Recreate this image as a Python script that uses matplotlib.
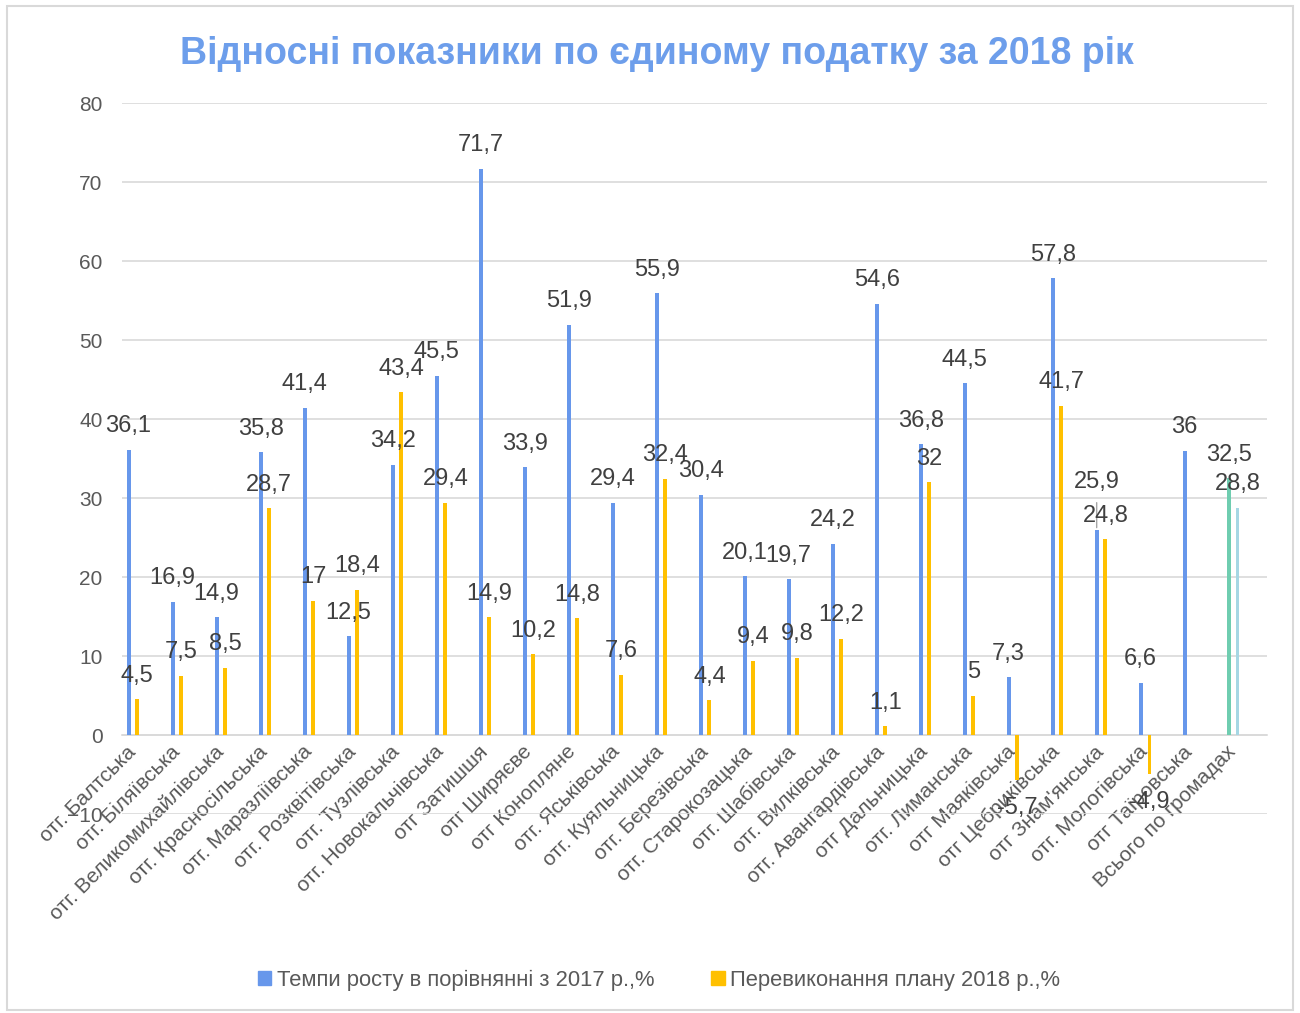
import numpy as np
import matplotlib.pyplot as plt
from matplotlib.patches import Rectangle

# categories and series values
communities = [
    "отг. Балтська", "отг. Біляївська", "отг. Великомихайлівська",
    "отг. Красносільська", "отг. Маразліївська", "отг. Розквітівська",
    "отг. Тузлівська", "отг. Новокальчівська", "отг Затишшя",
    "отг Ширяєве", "отг Конопляне", "отг. Яськівська",
    "отг. Куяльницька", "отг. Березівська", "отг. Старокозацька",
    "отг. Шабівська", "отг. Вилківська", "отг. Авангардівська",
    "отг Дальницька", "отг. Лиманська", "отг Маяківська",
    "отг Цебриківська", "отг Знам'янська", "отг. Мологівська",
    "отг Таїровська", "Всього по громадах",
]
growth = [36.1, 16.9, 14.9, 35.8, 41.4, 12.5, 34.2, 45.5, 71.7, 33.9,
          51.9, 29.4, 55.9, 30.4, 20.1, 19.7, 24.2, 54.6, 36.8, 44.5,
          7.3, 57.8, 25.9, 6.6, 36.0, 32.5]
overplan = [4.5, 7.5, 8.5, 28.7, 17.0, 18.4, 43.4, 29.4, 14.9, 10.2,
            14.8, 7.6, 32.4, 4.4, 9.4, 9.8, 12.2, 1.1, 32.0, 5.0,
            -5.7, 41.7, 24.8, -4.9, np.nan, 28.8]
series_names = ["Темпи росту в порівнянні з 2017 р.,%",
                "Перевиконання плану 2018 р.,%"]
title = "Відносні показники по єдиному податку за 2018 рік"

BLUE = "#6797eb"
ORANGE = "#ffc000"
TEAL = "#6fcdb0"
LIGHTBLUE = "#a6d7e4"
GRID = "#d9d9d9"
TXT = "#595959"
LBL = "#404040"

plt.rcParams['font.family'] = ['Liberation Sans', 'DejaVu Sans']


def fmt(v):
    return f"{v:g}".replace('.', ',')


fig = plt.figure(figsize=(13, 10.13), dpi=100)
ax = fig.add_axes([0.0938, 0.1964, 0.8808, 0.7019])

x = np.arange(len(communities))
w = 0.09
off = 0.1
blue_colors = [BLUE] * (len(x) - 1) + [TEAL]
orange_colors = [ORANGE] * (len(x) - 1) + [LIGHTBLUE]
ax.bar(x - off, growth, width=w, color=blue_colors, zorder=3)
ax.bar(x + off, overplan, width=w, color=orange_colors, zorder=3)

# data labels
for i, v in enumerate(growth):
    dy = 17
    if i == 22:  # label moved up with leader line in the original
        dy = 35
        ax.annotate("", xy=(x[i] - off, v), xytext=(0, 22),
                    textcoords='offset points',
                    arrowprops=dict(arrowstyle='-', color='#a6a6a6', lw=1))
    ax.annotate(fmt(v), xy=(x[i] - off, v), xytext=(0, dy),
                textcoords='offset points', ha='center', va='center',
                fontsize=17, color=LBL, zorder=5)
for i, v in enumerate(overplan):
    if np.isnan(v):
        continue
    dy = 17 if v >= 0 else -20
    ax.annotate(fmt(v), xy=(x[i] + off, v), xytext=(0, dy),
                textcoords='offset points', ha='center', va='center',
                fontsize=17, color=LBL, zorder=5)

ax.set_ylim(-10, 80)
ax.set_yticks(np.arange(-10, 81, 10))
ax.set_xlim(-0.25, 25.77)
ax.grid(axis='y', color=GRID, lw=1.2, zorder=0)
for s in ['top', 'right', 'left']:
    ax.spines[s].set_visible(False)
ax.spines['bottom'].set_position(('data', 0))
ax.spines['bottom'].set_color(GRID)
ax.spines['bottom'].set_linewidth(1.2)
ax.tick_params(axis='y', length=0, pad=14, labelsize=15, labelcolor=TXT)
ax.tick_params(axis='x', length=0, pad=10, labelsize=15, labelcolor=TXT)
ax.set_xticks(x)
ax.set_xticklabels(communities, rotation=45, ha='right', va='center',
                   rotation_mode='anchor')

fig.text(0.505, 0.947, title, ha='center', va='center', fontsize=27,
         fontweight='bold', color="#6d9eeb")

# legend
handles = [Rectangle((0, 0), 1, 1, color=BLUE), Rectangle((0, 0), 1, 1, color=ORANGE)]
fig.legend(handles, series_names, loc='center', bbox_to_anchor=(0.507, 0.032),
           ncol=2, frameon=False, labelcolor=TXT,
           handlelength=0.6, handleheight=0.6, handletextpad=0.25,
           columnspacing=2.6, prop={'size': 15.8})

# chart frame
fig.patches.append(Rectangle((7 / 1300, 3 / 1013), 1286 / 1300, 1004 / 1013,
                             transform=fig.transFigure, fill=False,
                             edgecolor=GRID, lw=1.5))

fig.savefig("out.png", dpi=100)
